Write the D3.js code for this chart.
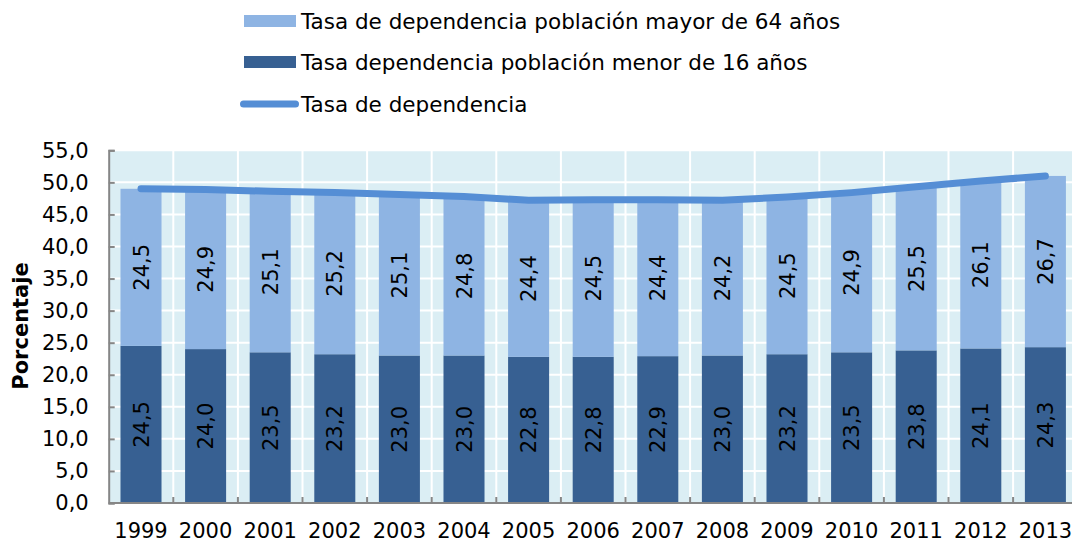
<!DOCTYPE html>
<html>
<head>
<meta charset="utf-8">
<script src="https://cdn.jsdelivr.net/npm/d3@7"></script>
<style>
  html, body { margin: 0; padding: 0; background: #fff; }
  svg { display: block; font-family: "DejaVu Sans", Verdana, sans-serif; }
</style>
</head>
<body>
<script>
const years = ["1999", "2000", "2001", "2002", "2003", "2004", "2005", "2006", "2007", "2008", "2009", "2010", "2011", "2012", "2013"];
const menor16 = [24.5, 24.0, 23.5, 23.2, 23.0, 23.0, 22.8, 22.8, 22.9, 23.0, 23.2, 23.5, 23.8, 24.1, 24.3];
const mayor64 = [24.5, 24.9, 25.1, 25.2, 25.1, 24.8, 24.4, 24.5, 24.4, 24.2, 24.5, 24.9, 25.5, 26.1, 26.7];
const tasaTotal = [49.0, 48.9, 48.6, 48.4, 48.1, 47.8, 47.2, 47.3, 47.3, 47.2, 47.7, 48.4, 49.3, 50.2, 51.0];
const yTicks = [0, 5, 10, 15, 20, 25, 30, 35, 40, 45, 50, 55];

const legendItems = [
  { label: "Tasa de dependencia población mayor de 64 años", kind: "bar", color: "#8eb4e3" },
  { label: "Tasa dependencia población menor de 16 años", kind: "bar", color: "#376092" },
  { label: "Tasa de dependencia", kind: "line", color: "#558ed5" }
];

const width = 1072, height = 543;
const margin = { left: 108.7, top: 150.3, bottom: 503 };
const plotRight = 1077.7;
const fontSize = 21;

const svg = d3.select("body").append("svg")
  .attr("width", width)
  .attr("height", height);

const x = d3.scaleBand()
  .domain(years)
  .range([margin.left, plotRight])
  .paddingInner(0.365)
  .paddingOuter(0.1825);

const y = d3.scaleLinear()
  .domain([0, 55])
  .range([margin.bottom, margin.top]);

const fmt = v => d3.format(".1f")(v).replace(".", ",");

// plot background
svg.append("rect")
  .attr("x", margin.left)
  .attr("y", margin.top)
  .attr("width", plotRight - margin.left)
  .attr("height", margin.bottom - margin.top)
  .attr("fill", "#dbeef4");

// gridlines
const grid = svg.append("g").attr("stroke", "#fff").attr("stroke-width", 2);
grid.selectAll(".hgrid")
  .data(yTicks.slice(1))
  .enter().append("line")
  .attr("x1", margin.left).attr("x2", plotRight)
  .attr("y1", d => y(d)).attr("y2", d => y(d));

const step = x.step();
const boundaries = years.slice(1).map(d => x(d) - step * x.paddingInner() / 2);
grid.selectAll(".vgrid")
  .data(boundaries)
  .enter().append("line")
  .attr("x1", d => d).attr("x2", d => d)
  .attr("y1", margin.top).attr("y2", margin.bottom);

// stacked bars
const rows = years.map((yr, i) => ({ year: yr, menor: menor16[i], mayor: mayor64[i] }));

svg.append("g").selectAll("rect")
  .data(rows)
  .enter().append("rect")
  .attr("x", d => x(d.year))
  .attr("width", x.bandwidth())
  .attr("y", d => y(d.menor))
  .attr("height", d => y(0) - y(d.menor))
  .attr("fill", "#376092");

svg.append("g").selectAll("rect")
  .data(rows)
  .enter().append("rect")
  .attr("x", d => x(d.year))
  .attr("width", x.bandwidth())
  .attr("y", d => y(d.menor + d.mayor))
  .attr("height", d => y(d.menor) - y(d.menor + d.mayor))
  .attr("fill", "#8eb4e3");

// bar value labels (rotated)
const labels = svg.append("g")
  .attr("font-size", fontSize)
  .attr("fill", "#000")
  .attr("text-anchor", "middle");

rows.forEach(d => {
  const cx = x(d.year) + x.bandwidth() / 2;
  [[d.menor / 2, d.menor], [d.menor + d.mayor / 2, d.mayor]].forEach(([mid, v]) => {
    labels.append("text")
      .attr("transform", `translate(${cx},${y(mid)}) rotate(-90)`)
      .attr("dy", "0.36em")
      .text(fmt(v));
  });
});

// total line
const line = d3.line()
  .x((d, i) => x(years[i]) + x.bandwidth() / 2)
  .y(d => y(d));

svg.append("path")
  .datum(tasaTotal)
  .attr("d", line)
  .attr("fill", "none")
  .attr("stroke", "#558ed5")
  .attr("stroke-width", 7)
  .attr("stroke-linecap", "round")
  .attr("stroke-linejoin", "round");

// axes
const axisColor = "#868686";
const yAxis = svg.append("g")
  .attr("transform", `translate(${margin.left},0)`)
  .call(d3.axisLeft(y).tickValues(yTicks).tickSize(-6).tickPadding(20).tickFormat(fmt));
yAxis.select(".domain").attr("stroke", axisColor).attr("stroke-width", 2);
yAxis.selectAll(".tick line").attr("stroke", axisColor).attr("stroke-width", 2);
yAxis.selectAll(".tick text")
  .attr("font-size", fontSize)
  .attr("fill", "#000")
  .attr("font-family", "DejaVu Sans, Verdana, sans-serif");

const xAxis = svg.append("g")
  .attr("transform", `translate(0,${margin.bottom})`);
xAxis.append("line")
  .attr("x1", margin.left).attr("x2", plotRight)
  .attr("stroke", axisColor).attr("stroke-width", 2);
xAxis.selectAll(".xtick")
  .data(boundaries)
  .enter().append("line")
  .attr("x1", d => d).attr("x2", d => d)
  .attr("y1", 0).attr("y2", -6)
  .attr("stroke", axisColor).attr("stroke-width", 2);
xAxis.selectAll(".xlabel")
  .data(years)
  .enter().append("text")
  .attr("x", d => x(d) + x.bandwidth() / 2)
  .attr("y", 35)
  .attr("text-anchor", "middle")
  .attr("font-size", fontSize)
  .attr("fill", "#000")
  .text(d => d);

// y title
svg.append("text")
  .attr("transform", "translate(28,326) rotate(-90)")
  .attr("text-anchor", "middle")
  .attr("font-size", 21)
  .attr("font-weight", "bold")
  .attr("fill", "#000")
  .text("Porcentaje");

// legend
const legendY = [21, 62, 104];
const legend = svg.append("g");
legendItems.forEach((item, i) => {
  const g = legend.append("g").attr("transform", `translate(0,${legendY[i]})`);
  if (item.kind === "bar") {
    g.append("rect")
      .attr("x", 244).attr("y", -6)
      .attr("width", 52).attr("height", 12)
      .attr("fill", item.color);
  } else {
    g.append("line")
      .attr("x1", 243.5).attr("x2", 295.5)
      .attr("stroke", item.color)
      .attr("stroke-width", 7)
      .attr("stroke-linecap", "round");
  }
  g.append("text")
    .attr("x", 301)
    .attr("dy", "0.36em")
    .attr("font-size", 21.5)
    .attr("fill", "#000")
    .text(item.label);
});
</script>
</body>
</html>
